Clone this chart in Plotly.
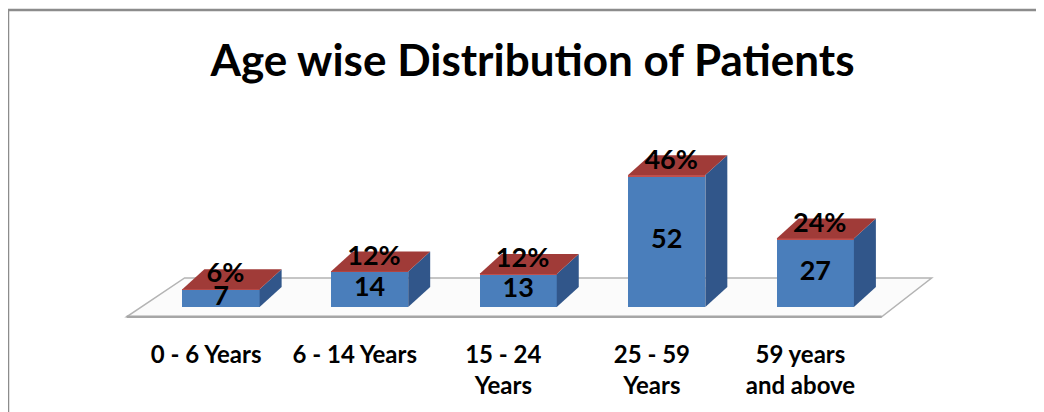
import plotly.graph_objects as go

# ---- data ----
categories = ["0 - 6 Years", "6 - 14 Years", "15 - 24<br>Years", "25 - 59<br>Years", "59 years<br>and above"]
counts = [7, 14, 13, 52, 27]
percents = [6, 12, 12, 46, 24]
title_text = "Age wise Distribution of Patients"

# ---- style constants ----
FONT = "Lato, Carlito, Calibri, sans-serif"
BLUE = "#4a7ebb"
BLUE_SIDE = "#31568a"
RED = "#c0504d"
RED_TOP = "#a03b38"
BAR_W = 0.52
BAR_SHIFT = 0.10          # bar front centre relative to category tick
DEPTH_X = 0.148           # 3-D depth in x units
DEPTH_Y = 7.9             # 3-D depth in y units
W, H = 1044, 412
PAGE_OFF = 8              # browser body margin
L, R, T, B = 117 - PAGE_OFF, 95 + PAGE_OFF, 141 - PAGE_OFF, 85 + PAGE_OFF
XR = [-0.6, 5.0]
YR = [-8, 66]

xs = list(range(len(categories)))
red_vals = [p / 100 for p in percents]

fig = go.Figure()

# front faces (stacked bars)
fig.add_trace(go.Bar(x=xs, y=counts, width=BAR_W, offset=BAR_SHIFT - BAR_W / 2,
                     marker=dict(color=BLUE, line=dict(width=0)), hoverinfo="skip"))
fig.add_trace(go.Bar(x=xs, y=red_vals, width=BAR_W, offset=BAR_SHIFT - BAR_W / 2,
                     marker=dict(color=RED, line=dict(width=0)), hoverinfo="skip"))

# side and top faces, derived from the same values
for i, (c, rv) in enumerate(zip(counts, red_vals)):
    h = c + rv
    x0 = i + BAR_SHIFT - BAR_W / 2
    x1 = i + BAR_SHIFT + BAR_W / 2
    fig.add_trace(go.Scatter(
        x=[x1, x1, x1 + DEPTH_X, x1 + DEPTH_X, x1],
        y=[0, h, h + DEPTH_Y, DEPTH_Y, 0],
        mode="lines", fill="toself", fillcolor=BLUE_SIDE,
        line=dict(width=0), hoverinfo="skip", showlegend=False))
    fig.add_trace(go.Scatter(
        x=[x0, x1, x1 + DEPTH_X, x0 + DEPTH_X, x0],
        y=[h, h, h + DEPTH_Y, h + DEPTH_Y, h],
        mode="lines", fill="toself", fillcolor=RED_TOP,
        line=dict(width=0), hoverinfo="skip", showlegend=False))

# labels
fig.add_trace(go.Scatter(
    x=[i + BAR_SHIFT for i in xs], y=[c / 2 for c in counts],
    mode="text", text=[f"<b>{c}</b>" for c in counts],
    textfont=dict(family=FONT, size=27, color="black"),
    textposition="middle center", hoverinfo="skip", showlegend=False, cliponaxis=False))
fig.add_trace(go.Scatter(
    x=[i + BAR_SHIFT + 0.03 for i in xs], y=[c + 5.4 for c in counts],
    mode="text", text=[f"<b>{p}%</b>" for p in percents],
    textfont=dict(family=FONT, size=27, color="black"),
    textposition="middle center", hoverinfo="skip", showlegend=False, cliponaxis=False))

# floor (below traces)
fl_front_y, fl_back_y = -3.97, 11.5
floor_path = (f"M {-0.535},{fl_front_y} L {4.547},{fl_front_y} "
              f"L {4.883},{fl_back_y} L {-0.145},{fl_back_y} Z")
shapes = [
    dict(type="path", path=floor_path, xref="x", yref="y", layer="below",
         fillcolor="#fbfbfb", line=dict(color="#b4b4b4", width=1.5)),
    dict(type="line", xref="x", yref="y", x0=-0.535, x1=4.547, y0=fl_front_y, y1=fl_front_y,
         layer="below", line=dict(color="#a6a6a6", width=2.5)),
]

# outer chart frame (figure pixels -> paper)
pw, ph = W - L - R, H - T - B
def px_x(p):
    return (p - L) / pw
def px_y(p):
    return (H - B - p) / ph
shapes += [
    dict(type="line", xref="paper", yref="paper", x0=px_x(0), x1=px_x(0), y0=px_y(1), y1=px_y(H + 5),
         line=dict(color="#8c8c8c", width=2.5)),
    dict(type="line", xref="paper", yref="paper", x0=px_x(-1), x1=px_x(W + 5), y0=px_y(2), y1=px_y(2),
         line=dict(color="#8c8c8c", width=2.5)),
]

fig.update_layout(
    width=W, height=H,
    margin=dict(l=L, r=R, t=T, b=B, pad=0),
    paper_bgcolor="white", plot_bgcolor="rgba(0,0,0,0)",
    barmode="stack", bargap=0, showlegend=False,
    title=dict(text=f"<b>{title_text}</b>", x=(532.5 - PAGE_OFF) / W, xanchor="center", xref="container",
               y=1 - (61 - PAGE_OFF) / H, yanchor="middle", yref="container",
               font=dict(family=FONT, size=44, color="black")),
    xaxis=dict(range=XR, tickmode="array", tickvals=xs,
               ticktext=[f"<b>{c}</b>" for c in categories],
               showgrid=False, zeroline=False, showline=False, ticks="",
               tickfont=dict(family=FONT, size=24, color="black"), ticklabelstandoff=11),
    yaxis=dict(range=YR, visible=False, showgrid=False, zeroline=False),
    shapes=shapes,
)

fig.write_html("out.html")
